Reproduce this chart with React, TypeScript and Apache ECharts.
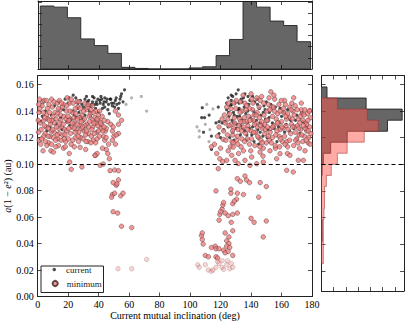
import React, { useEffect, useRef } from "react";
import * as echarts from "echarts";

// ---------- data ----------
const xTickValues = [0, 20, 40, 60, 80, 100, 120, 140, 160, 180];
const yTickValues = [0, 0.02, 0.04, 0.06, 0.08, 0.1, 0.12, 0.14, 0.16];
const threshold = 0.1;
const xAxisTitle = "Current mutual inclination (deg)";
const yAxisTitle = "{i|a}(1 − {i|e}²) (au)";

// top histogram (current mutual inclination, deg)
const topHistEdges = [1.5, 10.4, 19.3, 28.1, 37.0, 45.9, 54.8, 63.7, 72.5, 81.4, 90.3, 99.2, 108.1, 117.0, 125.8, 134.7, 143.6, 152.5, 161.4, 170.2, 179.1];
const topHistCounts = [113, 111, 92, 54, 42, 28, 3, 1, 0, 0, 0, 2, 4, 24, 53, 122, 111, 86, 78, 49];

// side histogram (a(1-e^2), au)
const sideHistEdges = [0.158, 0.1497, 0.1414, 0.1331, 0.1248, 0.1166, 0.1083, 0.1, 0.0917, 0.0834, 0.0752, 0.0669, 0.0586, 0.0503, 0.042, 0.0337, 0.0255];
const sideHistCurrent = [9, 73, 132, 108, 42, 15, 3, 1, 0, 0, 0, 0, 1, 1, 0, 0];
const sideHistMinimum = [0, 26, 75, 93, 70, 42, 26, 16, 8, 5, 5, 4, 3, 3, 3, 3];

// scatter: current
const currentLeft = [
  [23.3, 0.152], [32, 0.151], [37, 0.15], [40.8, 0.148], [45, 0.147], [48, 0.149], [51, 0.148], [54, 0.149], [55, 0.153], [57, 0.156],
  [47.5, 0.149], [39, 0.145], [41, 0.146], [43, 0.145], [30, 0.143], [33, 0.145], [35, 0.144], [23, 0.14], [26, 0.142], [19, 0.132],
  [22, 0.134], [25, 0.135], [28, 0.136], [31, 0.137], [14, 0.147], [18, 0.149], [25, 0.15], [28, 0.148], [2, 0.132], [5, 0.14],
  [8, 0.128], [11, 0.144], [15, 0.135], [17, 0.141], [20, 0.146], [27, 0.139], [29, 0.145], [34, 0.14], [36, 0.147], [38, 0.142],
  [42, 0.149], [44, 0.143], [46, 0.141], [49, 0.144], [50, 0.146], [52, 0.145], [53, 0.142], [56, 0.147], [44, 0.15], [36, 0.151],
  [31, 0.149], [40, 0.139], [47, 0.138], [12, 0.13], [6, 0.125], [9, 0.137], [16, 0.126], [21, 0.129], [3, 0.136], [53.5, 0.146],
  [46.5, 0.145], [38.5, 0.147], [33.5, 0.148], [42.5, 0.142], [50.5, 0.143], [24, 0.137], [29.5, 0.134], [34.5, 0.136],
  [20.5, 0.15], [26.5, 0.146], [32.5, 0.147], [37.5, 0.145], [41.5, 0.151], [45.5, 0.149], [48.5, 0.146], [51.5, 0.15], [54.5, 0.151], [43.5, 0.147],
  [39.5, 0.149], [35.5, 0.145]
];
const currentRight = [
  [131.6, 0.156], [125, 0.15], [128, 0.151], [135, 0.15], [108, 0.1425], [107.6, 0.135], [109.5, 0.135], [112.5, 0.137], [118.5, 0.143], [124, 0.146],
  [127, 0.148], [117, 0.131], [119, 0.132], [121, 0.131], [123, 0.132], [108.8, 0.124], [114, 0.121], [119, 0.123], [114, 0.111], [122, 0.126],
  [125, 0.128], [128, 0.124], [130, 0.127], [120, 0.12], [124, 0.141], [125.5, 0.136], [126.5, 0.144], [127.5, 0.133], [128.5, 0.139], [129.5, 0.146],
  [130.5, 0.13], [131.5, 0.141], [132.5, 0.136], [133.5, 0.149], [134.5, 0.127], [135.5, 0.143], [136.5, 0.138], [137.5, 0.131], [138.5, 0.145], [139.5, 0.135],
  [140.5, 0.122], [141.5, 0.14], [142.5, 0.147], [143.5, 0.133], [144.5, 0.126], [145.5, 0.142], [146.5, 0.137], [147.5, 0.129], [148.5, 0.144], [149.5, 0.134],
  [150.5, 0.12], [152, 0.139], [154, 0.131], [156, 0.143], [158, 0.128], [160, 0.136], [162, 0.124], [164, 0.141], [166, 0.133], [168, 0.127],
  [170, 0.137], [172, 0.123], [174, 0.132], [176, 0.128], [126, 0.12], [129, 0.118], [133, 0.122], [137, 0.118], [141, 0.128], [145, 0.115],
  [151, 0.126], [157, 0.117], [163, 0.13], [127, 0.152], [132, 0.146], [138, 0.151], [144, 0.149], [150, 0.147], [129, 0.137], [134, 0.133],
  [139, 0.127], [142, 0.117], [146, 0.124], [148, 0.139], [153, 0.145], [159, 0.142], [136, 0.153], [141, 0.151],
  [125.2, 0.139], [127.2, 0.145], [128.8, 0.131], [130.8, 0.136], [132.2, 0.142], [134.2, 0.147], [135.8, 0.125], [137.8, 0.14], [139.2, 0.148], [140.8, 0.133],
  [142.8, 0.138], [144.2, 0.145], [146.2, 0.131], [147.8, 0.121], [149.2, 0.141], [151.8, 0.135], [155.2, 0.127], [161.2, 0.139], [165.2, 0.125], [169.2, 0.133],
  [173.2, 0.139], [130.2, 0.153], [133.2, 0.129], [137.2, 0.122]
];
const currentFaint = [
  [61.6, 0.15], [68, 0.151], [71.5, 0.14], [58, 0.145], [106, 0.125], [106, 0.1205], [112.4, 0.117], [115, 0.1417], [110, 0.13], [113, 0.126],
  [104.5, 0.128], [111, 0.145]
];

// scatter: minimum
const minimumLeft = [
  [0.8, 0.139], [2.2, 0.126], [3.3, 0.147], [4.8, 0.123], [5.9, 0.137], [7.1, 0.116], [8.3, 0.13], [9.6, 0.143], [10.8, 0.124], [12.1, 0.134],
  [13.3, 0.119], [14.7, 0.141], [15.8, 0.128], [17.2, 0.136], [18.4, 0.117], [19.7, 0.132], [20.8, 0.146], [22.3, 0.128], [23.6, 0.135], [24.9, 0.12],
  [26.3, 0.143], [27.7, 0.129], [29.1, 0.137], [30.4, 0.125], [31.9, 0.141], [33.2, 0.123], [34.6, 0.138], [36.1, 0.128], [37.4, 0.135], [38.8, 0.124],
  [40.2, 0.133], [41.6, 0.127], [43.1, 0.121], [1.7, 0.131], [3.9, 0.121], [6.3, 0.142], [8.9, 0.125], [11.4, 0.139], [13.9, 0.127], [16.3, 0.122],
  [18.9, 0.14], [21.5, 0.123], [24.2, 0.131], [26.8, 0.117], [29.6, 0.133], [32.3, 0.13], [35.2, 0.121], [37.9, 0.14], [0.5, 0.124], [2.9, 0.144],
  [5.4, 0.128], [7.8, 0.139], [10.2, 0.12], [12.7, 0.146], [15.1, 0.133], [17.6, 0.126], [20.1, 0.119], [22.8, 0.139], [25.4, 0.126], [28.3, 0.12],
  [31, 0.129], [33.8, 0.136], [36.6, 0.118], [39.4, 0.129], [42.3, 0.136], [44.5, 0.125], [1.2, 0.149], [4.2, 0.148], [9.1, 0.149], [14.2, 0.148],
  [19.3, 0.15], [25.7, 0.147], [30.9, 0.146], [35.8, 0.144], [40.7, 0.14], [3.5, 0.11], [8.7, 0.11], [10.3, 0.109], [13.6, 0.114], [20.7, 0.108],
  [27.8, 0.1126], [31.5, 0.111], [37.8, 0.1065], [39, 0.108], [24, 0.113], [16.9, 0.112], [6, 0.114], [46, 0.132], [48, 0.13], [49, 0.125],
  [44, 0.118], [50, 0.121], [53, 0.123], [46.5, 0.115], [51, 0.115], [53, 0.13], [55, 0.133], [49.5, 0.128], [51.5, 0.122], [49, 0.118],
  [53, 0.137], [51, 0.14], [45, 0.111], [42.5, 0.112], [1, 0.118], [4, 0.133], [7, 0.127], [11, 0.131], [14, 0.123], [17, 0.145],
  [21, 0.134], [23, 0.118], [27, 0.124], [30, 0.14], [33, 0.117], [36, 0.133], [39, 0.119], [42, 0.13], [45, 0.127], [19, 0.125],
  [0.3, 0.133], [1.4, 0.142], [2.6, 0.119], [3.7, 0.139], [4.4, 0.129], [5.1, 0.117], [6.7, 0.134], [7.4, 0.145], [8.1, 0.121], [9.3, 0.133],
  [9.9, 0.126], [10.6, 0.147], [11.7, 0.118], [12.4, 0.128], [13.1, 0.138], [14.4, 0.131], [15.4, 0.118], [16.1, 0.143], [16.7, 0.13], [17.9, 0.122],
  [18.6, 0.134], [19.1, 0.144], [20.4, 0.127], [21.2, 0.14], [21.9, 0.115], [22.6, 0.131], [23.2, 0.146], [24.5, 0.124], [25.1, 0.138], [25.9, 0.13],
  [26.6, 0.121], [27.3, 0.135], [28, 0.142], [28.8, 0.127], [29.8, 0.119], [30.7, 0.134], [31.4, 0.122], [32.7, 0.143], [33.5, 0.128], [34.1, 0.132],
  [34.9, 0.116], [35.6, 0.126], [36.4, 0.139], [37.1, 0.123], [38.3, 0.131], [39.7, 0.137], [40.5, 0.121], [41.2, 0.131], [42.8, 0.125], [43.7, 0.133],
  [44.9, 0.12], [2, 0.115], [5.7, 0.148], [11.9, 0.113], [15.6, 0.146], [18.1, 0.113], [22, 0.149], [27.1, 0.147], [33, 0.145], [38, 0.116],
  [7.6, 0.133], [9, 0.115], [12.9, 0.122], [14.9, 0.137], [20.5, 0.133], [23.9, 0.127], [26, 0.134], [29.4, 0.128], [31.7, 0.117], [36.9, 0.131],
  [40, 0.125], [0.6, 0.145], [4.6, 0.135], [6.9, 0.121], [10, 0.136], [13.6, 0.142], [17.4, 0.119], [19.9, 0.136], [24.7, 0.142], [28.6, 0.132],
  [32, 0.125], [35, 0.141], [39, 0.134], [43.5, 0.128]
];
const minimumLeftTail = [
  [37.6, 0.1066], [46, 0.108], [47, 0.104], [21, 0.1015], [22, 0.096], [29, 0.0978], [41, 0.099], [43, 0.1], [47.5, 0.095], [50.5, 0.0955],
  [53, 0.095], [49.5, 0.086], [51.5, 0.084], [53, 0.088], [52, 0.085], [49, 0.077], [50.5, 0.078], [54.5, 0.076], [56, 0.078], [49.5, 0.064],
  [52.5, 0.063], [55, 0.053], [61.7, 0.052], [48.5, 0.075]
];
const minimumRight = [
  [123, 0.131], [124.5, 0.122], [126, 0.138], [127.5, 0.117], [128.5, 0.127], [130, 0.142], [131, 0.121], [132.5, 0.134], [133.5, 0.113], [135, 0.128],
  [136, 0.146], [137.5, 0.119], [138.5, 0.136], [140, 0.125], [141, 0.141], [142.5, 0.114], [143.5, 0.131], [145, 0.12], [146, 0.148], [147.5, 0.127],
  [148.5, 0.137], [150, 0.116], [151, 0.133], [152.5, 0.124], [153.5, 0.143], [155, 0.129], [156, 0.112], [157.5, 0.138], [158.5, 0.121], [160, 0.132],
  [161, 0.127], [162.5, 0.145], [163.5, 0.117], [165, 0.135], [166, 0.123], [167.5, 0.14], [168.5, 0.128], [170, 0.119], [171, 0.134], [172.5, 0.126],
  [173.5, 0.138], [175, 0.121], [176, 0.131], [177.5, 0.116], [178.5, 0.128], [124, 0.143], [126.5, 0.113], [129, 0.135], [131.5, 0.126], [134, 0.14],
  [136.5, 0.123], [139, 0.115], [141.5, 0.133], [144, 0.139], [146.5, 0.118], [149, 0.13], [151.5, 0.145], [154, 0.12], [156.5, 0.134], [159, 0.126],
  [161.5, 0.139], [164, 0.113], [166.5, 0.13], [169, 0.144], [171.5, 0.122], [174, 0.133], [176.5, 0.125], [179, 0.135], [122, 0.125], [125, 0.146],
  [127, 0.13], [130.5, 0.118], [133, 0.147], [135.5, 0.135], [138, 0.129], [140.5, 0.149], [143, 0.124], [145.5, 0.135], [148, 0.112], [150.5, 0.14],
  [153, 0.127], [155.5, 0.149], [158, 0.131], [160.5, 0.117], [163, 0.129], [165.5, 0.143], [168, 0.114], [170.5, 0.129], [173, 0.146], [175.5, 0.127],
  [178, 0.12], [128, 0.122], [132, 0.129], [137, 0.132], [142, 0.137], [147, 0.132], [152, 0.118], [157, 0.125], [162, 0.121], [167, 0.134],
  [172, 0.131], [177, 0.138], [134, 0.119], [139, 0.142], [144, 0.128], [149, 0.123], [154, 0.136], [159, 0.14], [164, 0.138], [169, 0.124],
  [174, 0.117], [155, 0.152], [162, 0.148], [147, 0.151], [140, 0.153], [168, 0.15], [173, 0.141], [116, 0.115], [118, 0.121], [119, 0.128],
  [120, 0.112], [121, 0.134], [117.5, 0.108], [114, 0.113], [119.5, 0.104], [153, 0.1545], [177.6, 0.125], [178.7, 0.1404], [176.5, 0.13], [121.8, 0.1186],
  [122.5, 0.137], [123.5, 0.118], [125.5, 0.129], [126.8, 0.142], [127.8, 0.125], [129.3, 0.131], [130.3, 0.148], [131.3, 0.115], [132.8, 0.139], [133.8, 0.125],
  [134.8, 0.132], [135.8, 0.117], [136.8, 0.141], [137.8, 0.126], [139.3, 0.133], [140.3, 0.119], [141.3, 0.146], [142.3, 0.13], [143.3, 0.137], [144.3, 0.121],
  [145.3, 0.143], [146.3, 0.129], [147.3, 0.116], [148.3, 0.146], [149.3, 0.126], [150.3, 0.133], [151.3, 0.121], [152.3, 0.141], [153.3, 0.116], [154.3, 0.128],
  [155.3, 0.14], [156.3, 0.122], [157.3, 0.131], [158.3, 0.145], [159.3, 0.119], [160.3, 0.128], [161.3, 0.142], [162.3, 0.115], [163.3, 0.134], [164.3, 0.126],
  [165.3, 0.118], [166.3, 0.141], [167.3, 0.128], [168.3, 0.137], [169.3, 0.118], [170.3, 0.141], [171.3, 0.127], [172.3, 0.136], [173.3, 0.122], [174.3, 0.129],
  [175.3, 0.141], [176.3, 0.118], [177.3, 0.133], [178.3, 0.14], [179.3, 0.123], [124.8, 0.134], [128.8, 0.146], [133.2, 0.132], [137.2, 0.144], [141.8, 0.124],
  [145.8, 0.113], [150.8, 0.128], [154.8, 0.143], [158.8, 0.113], [162.8, 0.136], [166.8, 0.146], [170.8, 0.116], [174.8, 0.137], [178.8, 0.115], [131.8, 0.108],
  [139.8, 0.11], [147.8, 0.106], [155.8, 0.114], [163.8, 0.108], [171.8, 0.112], [143.8, 0.15], [151.8, 0.15], [159.8, 0.148], [134.8, 0.152], [128.2, 0.116]
];
const minimumRightTail = [
  [127.3, 0.1066], [124, 0.1028], [129.5, 0.1028], [131.6, 0.1003], [136, 0.1028], [140.4, 0.1053], [139.3, 0.099], [143.7, 0.1003], [148, 0.1015], [156.8, 0.104],
  [163.4, 0.0953], [167.7, 0.094], [171, 0.1028], [174.3, 0.1028], [125, 0.11], [128.3, 0.1128], [135, 0.11], [145.9, 0.109], [152.4, 0.11], [159, 0.1078],
  [165.5, 0.1066], [175.4, 0.11], [121.4, 0.1018], [118.5, 0.0965], [131, 0.089], [133, 0.087], [137, 0.088], [139, 0.086], [136, 0.091], [146, 0.086],
  [150, 0.083], [135, 0.077], [130.5, 0.0735], [117, 0.0797], [126.8, 0.078], [126.8, 0.081], [131, 0.078], [145, 0.075], [121, 0.066], [121.5, 0.069],
  [122, 0.071], [128, 0.07], [129, 0.072], [119.5, 0.062], [120, 0.064], [123, 0.063], [125, 0.061], [128, 0.062], [131, 0.063], [119, 0.0576],
  [127, 0.056], [140, 0.059], [142, 0.056], [150, 0.057], [123, 0.048], [128, 0.0496], [108, 0.043], [107.5, 0.046], [108, 0.048], [108.6, 0.0396],
  [148, 0.045], [114, 0.037], [116.5, 0.038], [117, 0.036], [124, 0.042], [125.5, 0.04], [124, 0.038], [126, 0.037], [122, 0.035], [123, 0.033],
  [125, 0.034], [119, 0.036], [110, 0.031], [112, 0.03], [117, 0.03], [118, 0.029], [128, 0.031], [125.5, 0.045]
];
const minimumFaint = [
  [52.7, 0.021], [61.7, 0.021], [71.5, 0.028], [105, 0.024], [106, 0.022], [110, 0.024], [112, 0.02], [114, 0.019], [115, 0.02], [117, 0.022],
  [119, 0.025], [121, 0.022], [122, 0.0205], [124, 0.024], [126, 0.021], [127, 0.025], [128, 0.022], [124.5, 0.027], [118, 0.0265], [121, 0.027]
];

// ---------- styling ----------
const FONT = "'Liberation Serif', 'DejaVu Serif', serif";
const AXIS_COLOR = "#222";

function stepPolygon(api: any, edges: number[], counts: number[], horizontal: boolean) {
  const pts: number[][] = [];
  const c = (v: number, e: number) => (horizontal ? api.coord([v, e]) : api.coord([e, v]));
  pts.push(c(0, edges[0]));
  for (let i = 0; i < counts.length; i++) {
    pts.push(c(counts[i], edges[i]));
    pts.push(c(counts[i], edges[i + 1]));
  }
  pts.push(c(0, edges[edges.length - 1]));
  return pts;
}

function histSeries(xIdx: number, yIdx: number, edges: number[], counts: number[], horizontal: boolean, fill: string, stroke: string, z: number) {
  return {
    type: "custom",
    xAxisIndex: xIdx,
    yAxisIndex: yIdx,
    silent: true,
    z,
    clip: true,
    data: [0],
    renderItem: (params: any, api: any) => {
      if (params.dataIndex !== 0) return null;
      return {
        type: "polygon",
        shape: { points: stepPolygon(api, edges, counts, horizontal) },
        style: { fill, stroke, lineWidth: 0.9 },
      };
    },
  };
}

function frameAxis(gridIndex: number, position: string, extra: any = {}) {
  return {
    gridIndex,
    type: "value",
    position,
    axisLine: { show: true, onZero: false, lineStyle: { color: AXIS_COLOR, width: 1 } },
    axisTick: { show: true, inside: true, length: 4, lineStyle: { color: AXIS_COLOR, width: 0.8 } },
    axisLabel: { show: false },
    splitLine: { show: false },
    ...extra,
  };
}

export default function App() {
  const ref = useRef<HTMLDivElement>(null);
  useEffect(() => {
    if (!ref.current) return;
    const chart = echarts.init(ref.current, null, { renderer: "svg" });
    const labelStyle = { show: true, color: "#000", fontFamily: FONT, fontSize: 10 };
    const option: any = {
      animation: false,
      backgroundColor: "#fff",
      textStyle: { fontFamily: FONT },
      grid: [
        { left: 37.7, top: 75.7, width: 274.3, height: 220.8, outerBoundsMode: "none" },
        { left: 38, top: 1, width: 274, height: 68, outerBoundsMode: "none" },
        { left: 321.5, top: 75.5, width: 82.5, height: 215.5, outerBoundsMode: "none" },
      ],
      xAxis: [
        frameAxis(0, "bottom", {
          min: xTickValues[0], max: xTickValues[xTickValues.length - 1], interval: 20,
          axisLabel: { ...labelStyle, margin: 3 },
        }),
        frameAxis(0, "top", { min: 0, max: 180, interval: 20 }),
        frameAxis(1, "bottom", { min: 0, max: 180, interval: 20 }),
        frameAxis(1, "top", { min: 0, max: 180, interval: 20 }),
        frameAxis(2, "bottom", { min: 0, max: 135, interval: 20 }),
        frameAxis(2, "top", { min: 0, max: 135, interval: 20 }),
      ],
      yAxis: [
        frameAxis(0, "left", {
          min: 0, max: 0.1667, interval: 0.02,
          axisLabel: { ...labelStyle, margin: 4, showMaxLabel: false, formatter: (v: number) => v.toFixed(2) },
        }),
        frameAxis(0, "right", { min: 0, max: 0.1667, interval: 0.02 }),
        frameAxis(1, "left", { min: 0, max: 122, interval: 20 }),
        frameAxis(1, "right", { min: 0, max: 122, interval: 20 }),
        frameAxis(2, "left", { min: 0.005, max: 0.1666, splitNumber: 8, axisTick: { show: true, inside: true, length: 4, customValues: yTickValues, lineStyle: { color: AXIS_COLOR, width: 0.8 } } }),
        frameAxis(2, "right", { min: 0.005, max: 0.1666, splitNumber: 8, axisTick: { show: true, inside: true, length: 4, customValues: yTickValues, lineStyle: { color: AXIS_COLOR, width: 0.8 } } }),
      ],
      legend: [
        {
          data: ["current"], orient: "vertical", left: 52.5, top: 265, padding: 0,
          itemWidth: 3.5, itemHeight: 3.5, selectedMode: false,
          textStyle: { fontFamily: FONT, fontSize: 9, color: "#222", padding: [0, 0, 0, 5] },
        },
        {
          data: ["minimum"], orient: "vertical", left: 51.6, top: 279, padding: 0,
          itemWidth: 5.2, itemHeight: 5.2, selectedMode: false,
          textStyle: { fontFamily: FONT, fontSize: 9, color: "#222", padding: [0, 0, 0, 4] },
        },
      ],
      graphic: [
        { type: "rect", shape: { x: 41, y: 266, width: 62.5, height: 26.5 }, style: { fill: "none", stroke: "#222", lineWidth: 1 }, z: 10 },
        {
          type: "text", x: 175, y: 315, z: 10,
          style: { text: xAxisTitle, fontFamily: FONT, fontSize: 10, fill: "#000", align: "center", verticalAlign: "middle" },
        },
        {
          type: "text", x: 7, y: 186, rotation: Math.PI / 2, z: 10,
          style: {
            text: yAxisTitle, fontFamily: FONT, fontSize: 10, fill: "#000", align: "center", verticalAlign: "middle",
            rich: { i: { fontStyle: "italic", fontFamily: FONT, fontSize: 10, fill: "#000" } },
          },
        },
      ],
      series: [
        {
          name: "current", type: "scatter", xAxisIndex: 0, yAxisIndex: 0, data: [...currentLeft, ...currentRight],
          symbol: "circle", symbolSize: 3.2, itemStyle: { color: "#000", opacity: 0.7 }, z: 2,
        },
        {
          name: "current", type: "scatter", xAxisIndex: 0, yAxisIndex: 0, data: currentFaint,
          symbol: "circle", symbolSize: 3.2, itemStyle: { color: "#000", opacity: 0.3 }, z: 2,
        },
        {
          name: "minimum", type: "scatter", xAxisIndex: 0, yAxisIndex: 0, data: [...minimumLeft, ...minimumLeftTail, ...minimumRight, ...minimumRightTail],
          symbol: "circle", symbolSize: 4.6, itemStyle: { color: "#f08080", borderColor: "#3a2626", borderWidth: 0.5 }, z: 3,
          markLine: {
            silent: true, symbol: "none", label: { show: false },
            lineStyle: { color: "#000", type: [4, 3], width: 1.2 },
            data: [{ yAxis: threshold }],
          },
        },
        {
          name: "minimum", type: "scatter", xAxisIndex: 0, yAxisIndex: 0, data: minimumFaint,
          symbol: "circle", symbolSize: 4.6, itemStyle: { color: "#f08080", borderColor: "#3a2626", borderWidth: 0.5, opacity: 0.35 }, z: 3,
        },
        histSeries(2, 2, topHistEdges, topHistCounts, false, "rgba(0,0,0,0.6)", "#222", 2),
        histSeries(4, 4, sideHistEdges, sideHistCurrent, true, "rgba(0,0,0,0.6)", "#222", 2),
        histSeries(4, 4, sideHistEdges, sideHistMinimum, true, "rgba(255,85,75,0.5)", "rgba(150,50,50,0.6)", 3),
        {
          type: "scatter", xAxisIndex: 4, yAxisIndex: 4, data: [], silent: true,
          markLine: {
            silent: true, symbol: "none", label: { show: false },
            lineStyle: { color: "#000", type: [4, 3], width: 1.2 },
            data: [{ yAxis: threshold }],
          },
        },
      ],
    };
    chart.setOption(option);
    return () => chart.dispose();
  }, []);
  return <div ref={ref} style={{ position: "absolute", left: 0, top: 0, width: 407, height: 322 }} />;
}
